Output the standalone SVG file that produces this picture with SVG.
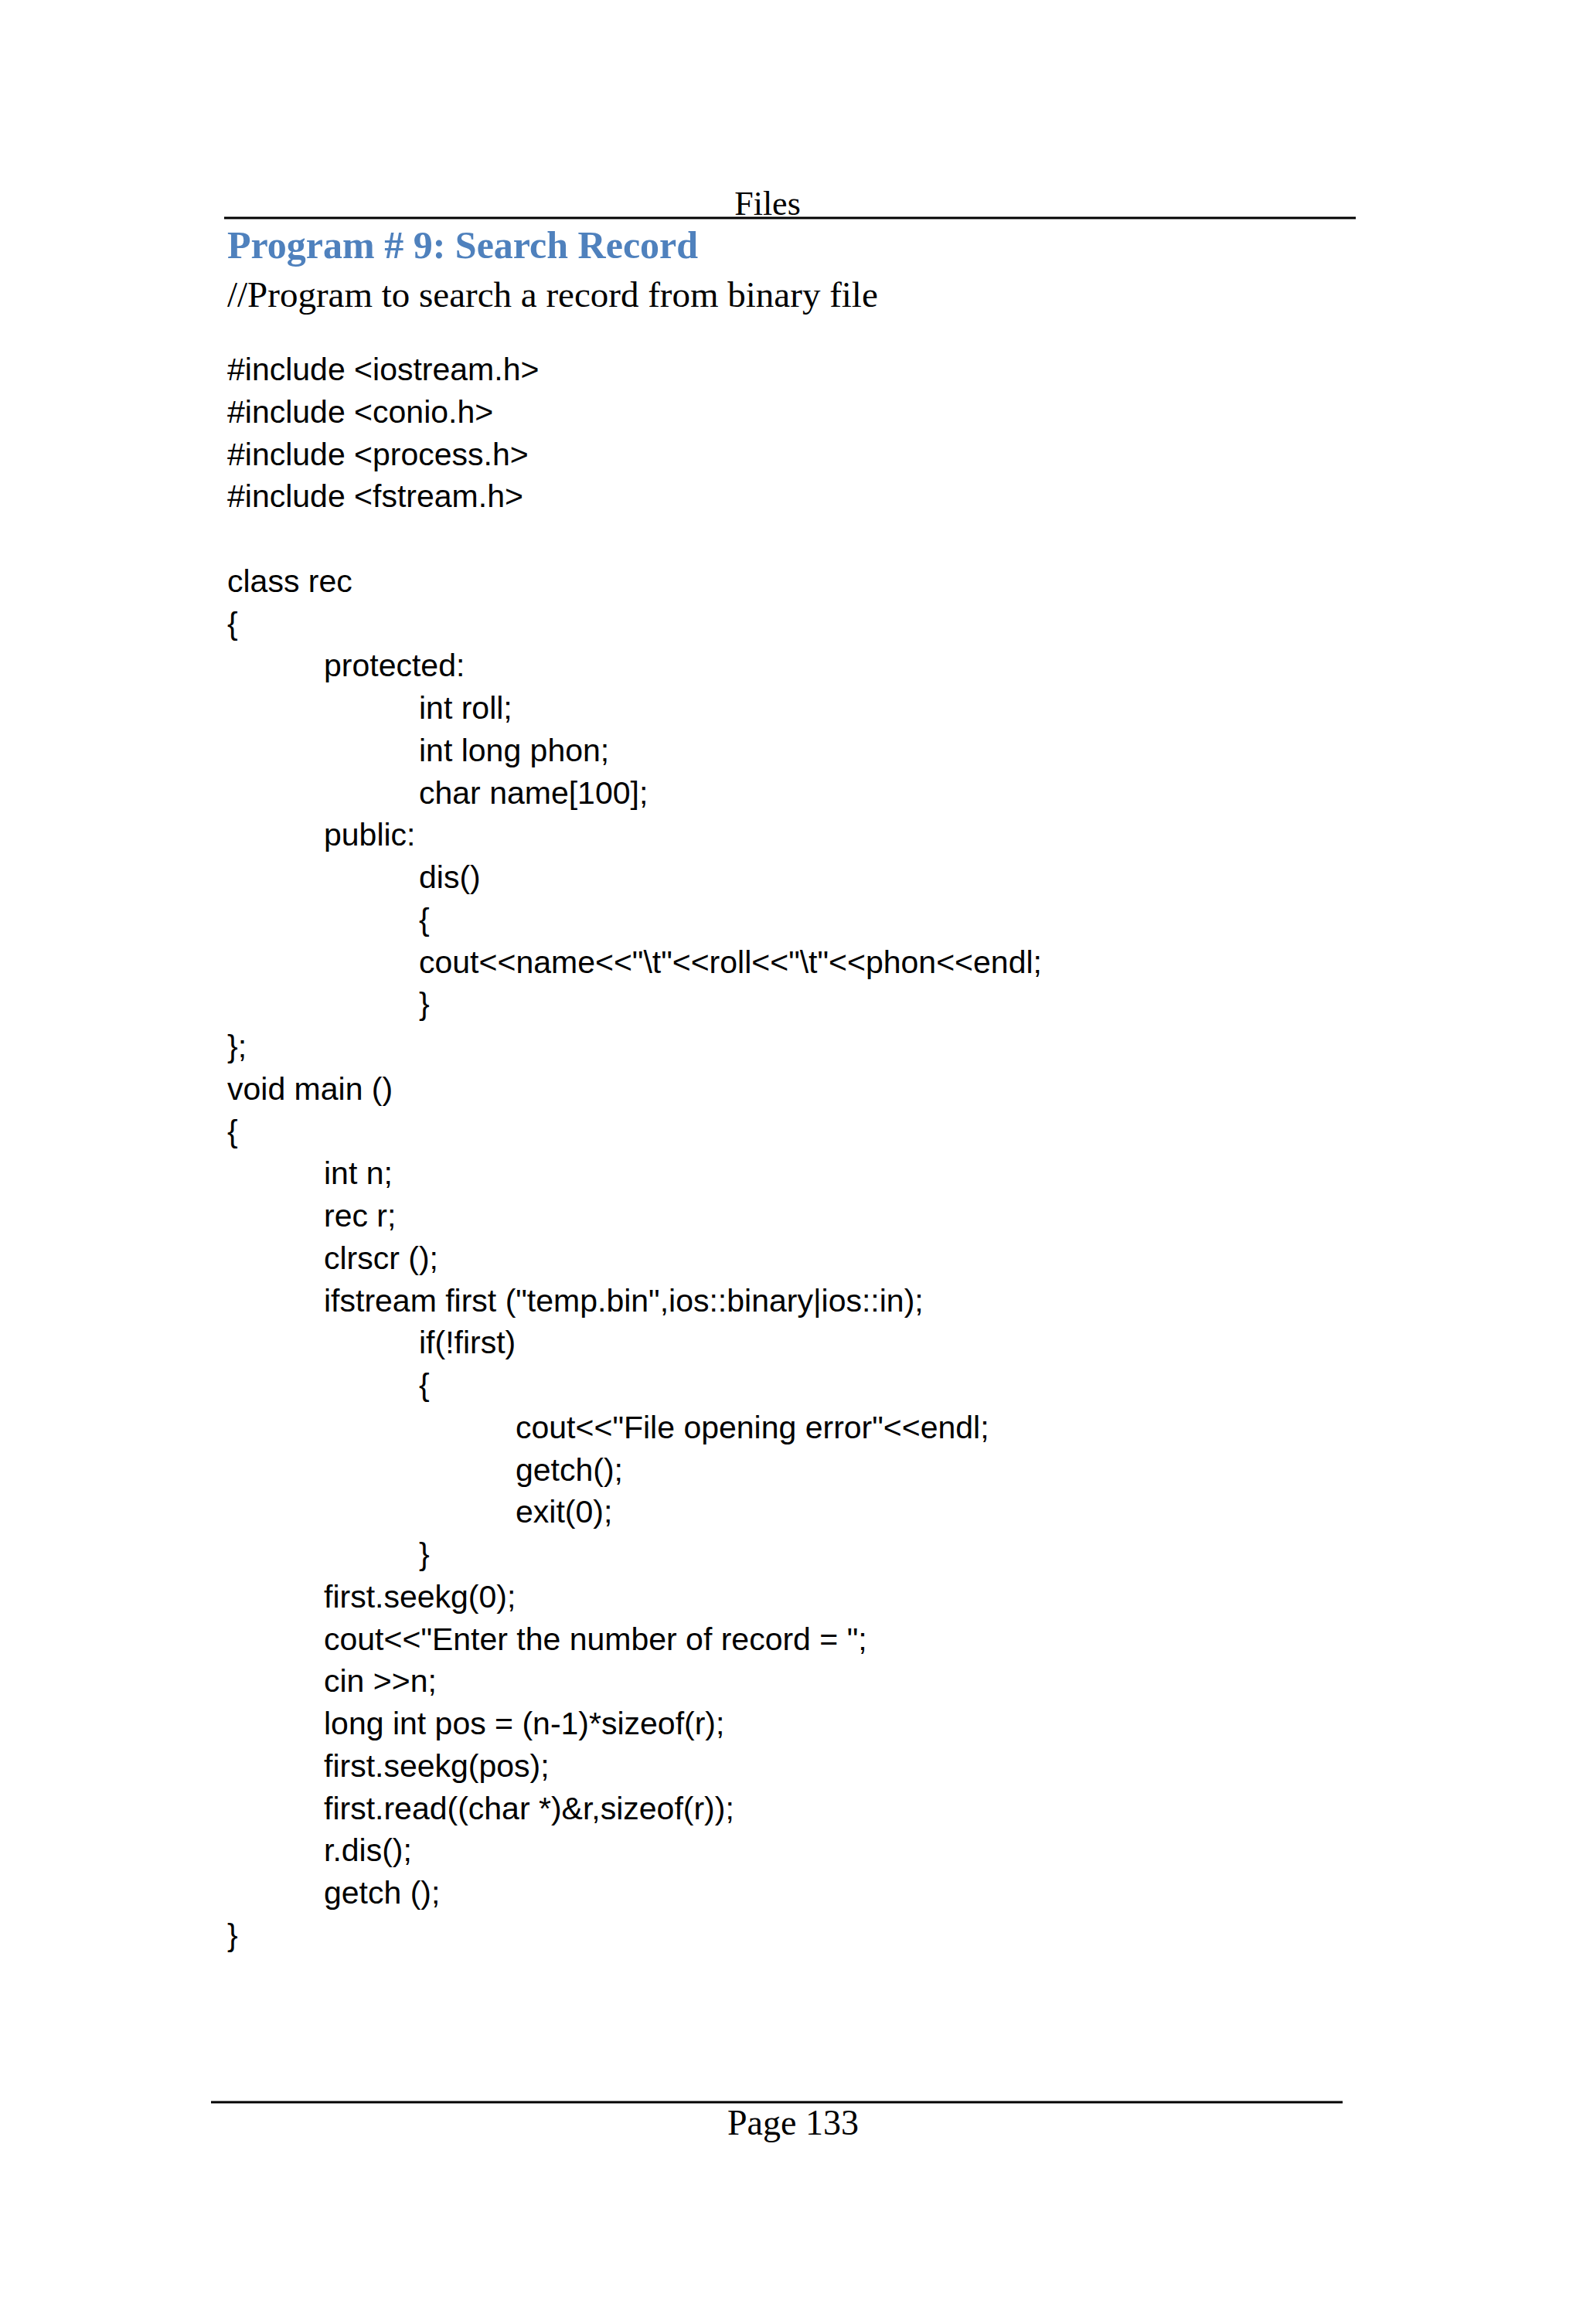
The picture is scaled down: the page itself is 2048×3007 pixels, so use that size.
<svg xmlns="http://www.w3.org/2000/svg" width="2048" height="3007" viewBox="0 0 2048 3007">
<style>
.s{font-family:"Liberation Serif",serif;fill:#000}
.c{font-family:"Liberation Sans","Open Sans",sans-serif;font-size:41px;fill:#000}
</style>
<rect width="2048" height="3007" fill="#fff"/>
<g id="header">
<line x1="290" y1="282" x2="1754" y2="282" stroke="#000" stroke-width="3"/>
<text class="s" x="993" y="278" font-size="44" text-anchor="middle">Files</text>
<text x="294" y="334" font-family="Liberation Serif,serif" font-weight="bold" font-size="50" fill="#4F81BD">Program # 9: Search Record</text>
<text class="s" x="294" y="397" font-size="47">//Program to search a record from binary file</text>
</g>
<g transform="translate(0,-4)">
<g id="code">
<text class="c" x="294" y="496">#include &lt;iostream.h&gt;</text>
<text class="c" x="294" y="551">#include &lt;conio.h&gt;</text>
<text class="c" x="294" y="606">#include &lt;process.h&gt;</text>
<text class="c" x="294" y="660">#include &lt;fstream.h&gt;</text>
<text class="c" x="294" y="770">class rec</text>
<text class="c" x="294" y="825">{</text>
<text class="c" x="419" y="879">protected:</text>
<text class="c" x="542" y="934">int roll;</text>
<text class="c" x="542" y="989">int long phon;</text>
<text class="c" x="542" y="1044">char name[100];</text>
<text class="c" x="419" y="1098">public:</text>
<text class="c" x="542" y="1153">dis()</text>
<text class="c" x="542" y="1208">{</text>
<text class="c" x="542" y="1263">cout&lt;&lt;name&lt;&lt;"\t"&lt;&lt;roll&lt;&lt;"\t"&lt;&lt;phon&lt;&lt;endl;</text>
<text class="c" x="542" y="1317">}</text>
<text class="c" x="294" y="1372">};</text>
<text class="c" x="294" y="1427">void main ()</text>
<text class="c" x="294" y="1482">{</text>
<text class="c" x="419" y="1536">int n;</text>
<text class="c" x="419" y="1591">rec r;</text>
<text class="c" x="419" y="1646">clrscr ();</text>
<text class="c" x="419" y="1701">ifstream first ("temp.bin",ios::binary|ios::in);</text>
<text class="c" x="542" y="1755">if(!first)</text>
<text class="c" x="542" y="1810">{</text>
<text class="c" x="667" y="1865">cout&lt;&lt;"File opening error"&lt;&lt;endl;</text>
<text class="c" x="667" y="1920">getch();</text>
<text class="c" x="667" y="1974">exit(0);</text>
<text class="c" x="542" y="2029">}</text>
<text class="c" x="419" y="2084">first.seekg(0);</text>
<text class="c" x="419" y="2139">cout&lt;&lt;"Enter the number of record = ";</text>
<text class="c" x="419" y="2193">cin &gt;&gt;n;</text>
<text class="c" x="419" y="2248">long int pos = (n-1)*sizeof(r);</text>
<text class="c" x="419" y="2303">first.seekg(pos);</text>
<text class="c" x="419" y="2358">first.read((char *)&amp;r,sizeof(r));</text>
<text class="c" x="419" y="2412">r.dis();</text>
<text class="c" x="419" y="2467">getch ();</text>
<text class="c" x="294" y="2522">}</text>
</g>
</g>
<g id="footer">
<line x1="273" y1="2720" x2="1737" y2="2720" stroke="#000" stroke-width="3"/>
<text class="s" x="1026" y="2762" font-size="46" text-anchor="middle">Page 133</text>
</g>
</svg>
